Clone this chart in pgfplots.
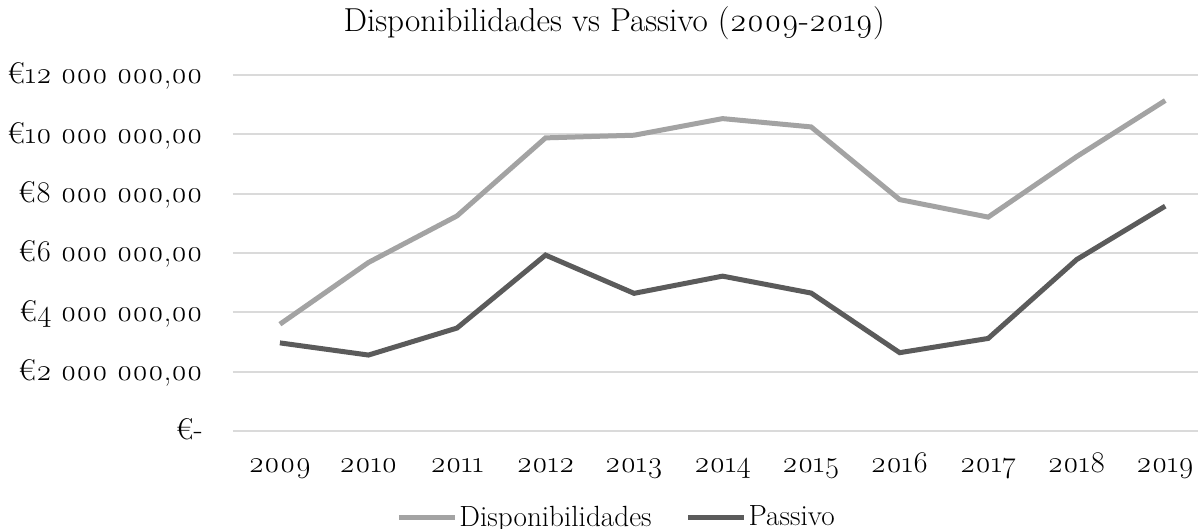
\documentclass[border=0pt]{standalone}
\usepackage{fontspec}
\setmainfont{Latin Modern Roman}[Numbers=OldStyle]
\usepackage{pgfplots}
\pgfplotsset{compat=1.18}
\definecolor{dispc}{HTML}{A3A3A3}
\definecolor{passc}{HTML}{5B5B5B}
\definecolor{gridc}{HTML}{DADADA}
\pgfplotstableread{
year disp pass
2009 3.60 2.97
2010 5.68 2.56
2011 7.25 3.47
2012 9.88 5.93
2013 9.97 4.64
2014 10.53 5.22
2015 10.25 4.65
2016 7.80 2.64
2017 7.21 3.12
2018 9.25 5.78
2019 11.14 7.58
}\datatable
\begin{document}
\begin{tikzpicture}
\useasboundingbox (-116.5pt,-49pt) rectangle (482.5pt,215.5pt);
\begin{axis}[
  at={(0,0)}, anchor=south west,
  scale only axis, width=482.5pt, height=178pt,
  xmin=2008.47, xmax=2019.37, ymin=0, ymax=12,
  axis line style={draw=none},
  major tick length=0pt,
  clip=false,
  ymajorgrids, grid style={gridc, line width=1pt},
  xtick={2009,...,2019},
  xticklabels={2009,2010,2011,2012,2013,2014,2015,2016,2017,2018,2019},
  ytick={0,2,4,6,8,10,12},
  yticklabels={€-,€2 000 000{,}00,€4 000 000{,}00,€6 000 000{,}00,€8 000 000{,}00,€10 000 000{,}00,€12 000 000{,}00},
  ticklabel style={font=\fontsize{15}{17}\selectfont, text=black},
  x tick label style={anchor=base, yshift=-20.5pt, inner sep=0pt},
  y tick label style={anchor=base east, xshift=-15pt, yshift=-4.5pt, inner sep=0pt},
  title={Disponibilidades vs Passivo (2009-2019)},
  title style={at={(0.395,1)}, anchor=base, yshift=15.5pt, inner sep=0pt, font=\fontsize{16.6}{19}\selectfont, text=black},
  legend columns=2,
  legend style={at={(0.169,-0.243)}, anchor=west, draw=none, fill=none, inner sep=0pt,
    font=\fontsize{14.6}{16}\selectfont, text=black,
    nodes={inner sep=1pt},
    /tikz/every even column/.append style={column sep=16pt}},
  legend image code/.code={\draw[#1, line width=2.5pt] (0pt,0pt) -- (28pt,0pt);},
  legend cell align=left,
]
\addplot[dispc, line width=2.5pt] table[x=year, y=disp] {\datatable};
\addlegendentry{Disponibilidades}
\addplot[passc, line width=2.5pt] table[x=year, y=pass] {\datatable};
\addlegendentry{Passivo}
\end{axis}
\end{tikzpicture}
\end{document}
